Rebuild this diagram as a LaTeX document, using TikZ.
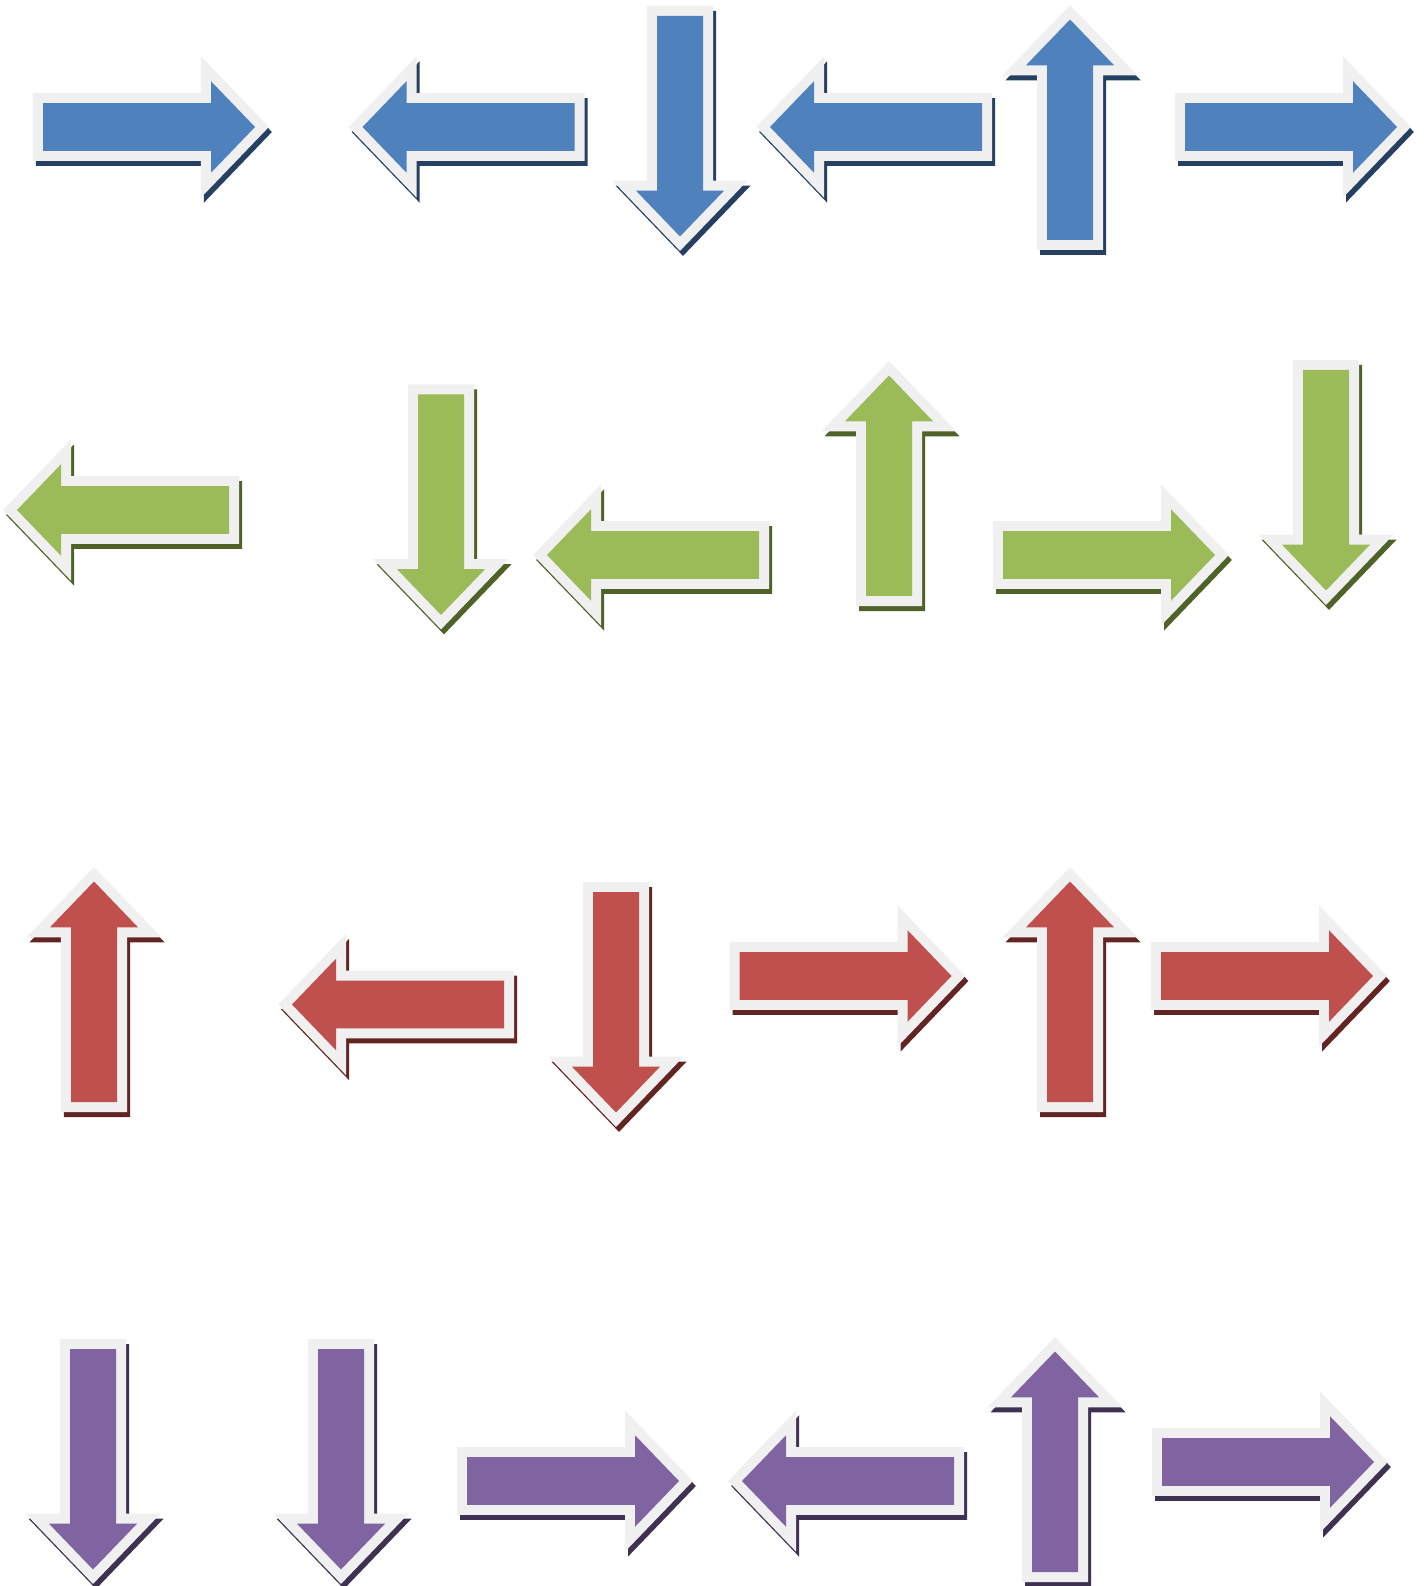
\documentclass[tikz,border=0pt]{standalone}
\usepackage{tikz}
\definecolor{blueA}{HTML}{4F81BD}
\definecolor{blueB}{HTML}{254061}
\definecolor{greenA}{HTML}{9BBB59}
\definecolor{greenB}{HTML}{4F6228}
\definecolor{redA}{HTML}{C0504D}
\definecolor{redB}{HTML}{632523}
\definecolor{violetA}{HTML}{8064A2}
\definecolor{violetB}{HTML}{3F3151}
\definecolor{rimgray}{HTML}{F0F0F0}
\tikzset{
	arrowrim/.style={line width=0.2cm, line join=miter, miter limit=10},
}
\def\arrowshape{(0, -23) -- (168, -23) -- (168, -44) -- (212, 0) -- (168, 44) -- (168, 23) -- (0, 23) -- cycle}
\def\blockarrow[#1,#2](#3,#4)(#5){
	\begin{scope}[shift={(#3+3, #4+5)}, yscale=1.04, rotate=#5]
		\draw[arrowrim, color=#2, fill=#2] \arrowshape;
	\end{scope}
	\begin{scope}[shift={(#3, #4)}, yscale=1.04, rotate=#5]
		\draw[arrowrim, color=rimgray, fill=#1] \arrowshape;
		\fill[#1] \arrowshape;
	\end{scope}
}

\begin{document}
\begin{tikzpicture}[x=0.01cm, y=-0.01cm]
			%%%%% START %%%%%
			
			\useasboundingbox (0, 0) rectangle (1425, 1586);
			
			\blockarrow[blueA,blueB](43, 127)(0)
			\blockarrow[blueA,blueB](574.5, 127)(180)
			\blockarrow[blueA,blueB](680, 16)(270)
			\blockarrow[blueA,blueB](982, 127)(180)
			\blockarrow[blueA,blueB](1070, 240)(90)
			\blockarrow[blueA,blueB](1185, 127)(0)
			
			\blockarrow[greenA,greenB](229, 510)(180)
			\blockarrow[greenA,greenB](441, 394.5)(270)
			\blockarrow[greenA,greenB](759, 555)(180)
			\blockarrow[greenA,greenB](889, 596)(90)
			\blockarrow[greenA,greenB](1003, 555)(0)
			\blockarrow[greenA,greenB](1326, 370)(270)
			
			\blockarrow[redA,redB](94, 1102)(90)
			\blockarrow[redA,redB](504, 1004.5)(180)
			\blockarrow[redA,redB](616, 892)(270)
			\blockarrow[redA,redB](739.5, 976)(0)
			\blockarrow[redA,redB](1070, 1102)(90)
			\blockarrow[redA,redB](1161, 976)(0)
			
			\blockarrow[violetA,violetB](93, 1349)(270)
			\blockarrow[violetA,violetB](341, 1349)(270)
			\blockarrow[violetA,violetB](467, 1481)(0)
			\blockarrow[violetA,violetB](954, 1481)(180)
			\blockarrow[violetA,violetB](1055, 1572)(90)
			\blockarrow[violetA,violetB](1162, 1462)(0)
			
			%%%%% END %%%%%
\end{tikzpicture}
\end{document}
